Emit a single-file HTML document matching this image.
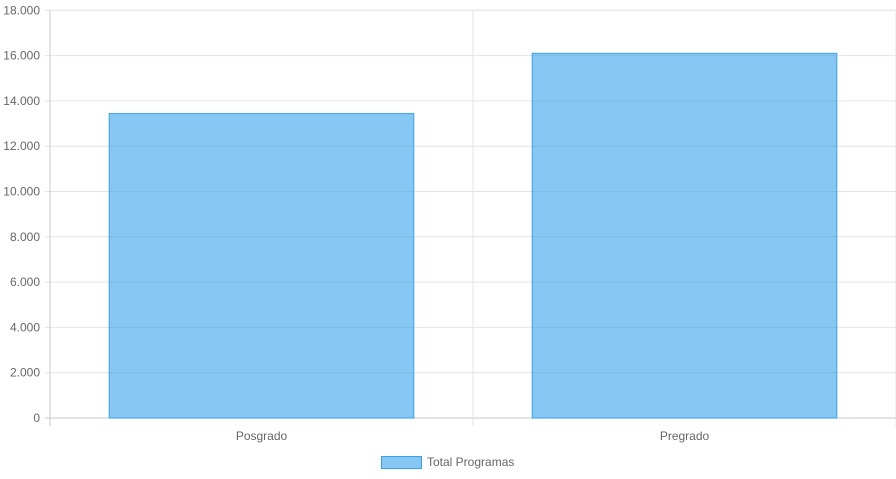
<!DOCTYPE html>
<html><head><meta charset="utf-8"><style>
html,body{margin:0;padding:0;background:#fff;}
svg{display:block;font-family:"Liberation Sans",sans-serif;}
</style></head><body>
<svg id="c" width="896" height="479"></svg>
<script>
const categories=["Posgrado","Pregrado"];
const values=[13440,16100];
const yTicks=[0,2000,4000,6000,8000,10000,12000,14000,16000,18000];
const seriesName="Total Programas";
const svg=document.getElementById('c');
const NS="http://www.w3.org/2000/svg";
const L=50,R=896,T=10.3,B=418,yMax=18000;
const y=v=>B-(v/yMax)*(B-T);
const cw=(R-L)/categories.length;
const x=i=>L+cw*i;
function mk(t,a,p){const e=document.createElementNS(NS,t);for(const k in a)e.setAttribute(k,a[k]);(p||svg).appendChild(e);return e;}
const fmt=v=>v.toLocaleString('de-DE');
const grid=mk('g',{});


yTicks.forEach(v=>{
  mk('line',{x1:L-5,x2:R,y1:y(v),y2:y(v),stroke:v===0?'#c8c8c8':'#e4e4e4','stroke-width':1},grid);
  const t=mk('text',{x:40,y:y(v)+4,'text-anchor':'end','font-size':12,fill:'#666'});
  
  
  t.textContent=fmt(v);
});
for(let i=0;i<=categories.length;i++){
  mk('line',{x1:x(i),x2:x(i),y1:T,y2:B+8,stroke:i===0?'#c8c8c8':'#e4e4e4','stroke-width':1},grid);
}
categories.forEach((c,i)=>{
  const bw=cw*0.72, bx=x(i)+(cw-bw)/2;
  const r=mk('rect',{x:bx,y:y(values[i]),width:bw,height:B-y(values[i]),fill:'rgba(54,162,235,0.6)',stroke:'#36a2eb','stroke-width':1});
  
  
  const t=mk('text',{x:x(i)+cw/2,y:440,'text-anchor':'middle','font-size':12,fill:'#666'});
  
  
  t.textContent=c;
});
const lg=mk('g',{});


mk('rect',{x:381.5,y:456.5,width:40,height:12,fill:'rgba(54,162,235,0.6)',stroke:'#36a2eb','stroke-width':1},lg);
const lt=mk('text',{x:427,y:466,'font-size':12,fill:'#666'},lg);
lt.textContent=seriesName;
</script>
</body></html>
